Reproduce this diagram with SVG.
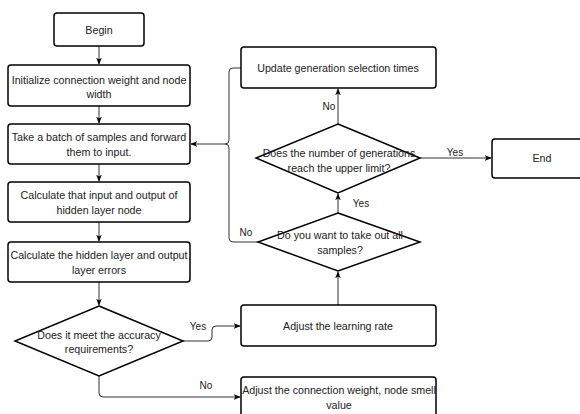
<svg xmlns="http://www.w3.org/2000/svg" width="580" height="414" viewBox="0 0 580 414">
<defs>
<style>
.box{fill:#fff;stroke:#000;stroke-width:1.5}
.t{font-family:"Liberation Sans",Arial,sans-serif;font-size:10.7px;fill:#222;text-anchor:middle}
.c{fill:none;stroke:#333;stroke-width:1}
.l{font-family:"Liberation Sans",Arial,sans-serif;font-size:10px;fill:#222;text-anchor:middle}
</style>
<marker id="a" viewBox="0 0 10 10" refX="9" refY="5" markerWidth="7" markerHeight="7" orient="auto" markerUnits="userSpaceOnUse">
<path d="M0,1 L10,5 L0,9 L2.5,5 Z" fill="#000"/>
</marker>
</defs>
<rect width="580" height="414" fill="#fff"/>
<g id="connectors">
<path class="c" d="M99,46 V64" marker-end="url(#a)"/>
<path class="c" d="M99,106 V123" marker-end="url(#a)"/>
<path class="c" d="M99,164 V181" marker-end="url(#a)"/>
<path class="c" d="M99,222 V241" marker-end="url(#a)"/>
<path class="c" d="M99,282 V305" marker-end="url(#a)"/>
<path class="c" d="M183,341 H208 Q212,341 212,337 V330 Q212,326 216,326 H240" marker-end="url(#a)"/>
<path class="c" d="M99,376 V393 Q99,397 103,397 H240" marker-end="url(#a)"/>
<path class="c" d="M338,305 V272" marker-end="url(#a)"/>
<path class="c" d="M338,213 V194" marker-end="url(#a)"/>
<path class="c" d="M338,124 V89" marker-end="url(#a)"/>
<path class="c" d="M420,158 H491" marker-end="url(#a)"/>
<path class="c" d="M241,68 H233 Q229,68 229,72 V140 Q229,144 225,144 H191" marker-end="url(#a)"/>
<path class="c" d="M258,242 H233 Q229,242 229,238 V148 Q229,144 225,144"/>
<text class="l" x="198" y="330">Yes</text>
<text class="l" x="206" y="389">No</text>
<text class="l" x="361" y="207">Yes</text>
<text class="l" x="329" y="110">No</text>
<text class="l" x="455" y="156">Yes</text>
<text class="l" x="246" y="236">No</text>
</g>
<g id="begin">
<rect class="box" x="54" y="13" width="90" height="33" rx="3"/>
<text class="t" x="99" y="33.5">Begin</text>
</g>
<g id="init">
<rect class="box" x="8" y="65" width="182" height="41" rx="3"/>
<text class="t" x="99" y="84">Initialize connection weight and node</text>
<text class="t" x="99" y="98">width</text>
</g>
<g id="batch">
<rect class="box" x="8" y="124" width="182" height="40" rx="3"/>
<text class="t" x="99" y="141">Take a batch of samples and forward</text>
<text class="t" x="99" y="155.5">them to input.</text>
</g>
<g id="calc-io">
<rect class="box" x="8" y="182" width="182" height="40" rx="3"/>
<text class="t" x="99" y="199">Calculate that input and output of</text>
<text class="t" x="99" y="213.5">hidden layer node</text>
</g>
<g id="calc-err">
<rect class="box" x="8" y="242" width="182" height="40" rx="3"/>
<text class="t" x="99" y="259">Calculate the hidden layer and output</text>
<text class="t" x="99" y="273.5">layer errors</text>
</g>
<g id="accuracy">
<path class="box" d="M99,306 L183,341 L99,376 L15,341 Z"/>
<text class="t" x="99" y="339">Does it meet the accuracy</text>
<text class="t" x="99" y="353">requirements?</text>
</g>
<g id="learning-rate">
<rect class="box" x="241" y="305" width="195" height="41" rx="3"/>
<text class="t" x="338" y="329.5">Adjust the learning rate</text>
</g>
<g id="adjust-weight">
<rect class="box" x="241" y="377" width="195" height="41" rx="3"/>
<text class="t" x="339" y="394">Adjust the connection weight, node smell</text>
<text class="t" x="339" y="409">value</text>
</g>
<g id="take-all">
<path class="box" d="M338,213 L420,242 L338,271 L258,242 Z"/>
<text class="t" x="340" y="239">Do you want to take out all</text>
<text class="t" x="340" y="254">samples?</text>
</g>
<g id="generations">
<path class="box" d="M338,124 L420,158 L338,193 L256,158 Z"/>
<text class="t" x="339" y="157">Does the number of generations</text>
<text class="t" x="339" y="171.5">reach the upper limit?</text>
</g>
<g id="update">
<rect class="box" x="241" y="47" width="195" height="41" rx="3"/>
<text class="t" x="338" y="71.5">Update generation selection times</text>
</g>
<g id="end">
<rect class="box" x="492" y="139" width="100" height="39" rx="3"/>
<text class="t" x="542" y="162">End</text>
</g>
</svg>
